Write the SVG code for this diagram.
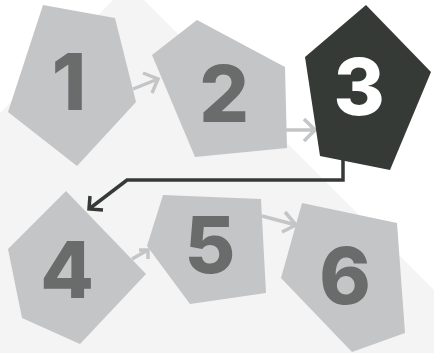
<svg xmlns="http://www.w3.org/2000/svg" width="434" height="353" viewBox="0 0 434 353">
<defs>
<style>
.node{fill:#c4c5c7}
.dark{fill:#363a37}
.num{font-family:Inter,Roboto,"Open Sans",sans-serif;font-weight:800;font-size:78px;text-anchor:middle;fill:#6a6c6b}
.num3{fill:#ffffff}
.lc{fill:none;stroke:#c4c5c7;stroke-width:3.5;stroke-linecap:butt;stroke-linejoin:miter}
.dc{fill:none;stroke:#363a37;stroke-width:3.5;stroke-linejoin:miter}
</style>
</defs>
<rect width="434" height="353" fill="#ffffff"/>
<polygon points="0,113 113,0 144,0 434,290 434,353 0,353" fill="#f4f4f4"/>
<g id="connectors">
<path class="lc" d="M133,89 L158,79 M143,73 L158,79 L152,93"/>
<path class="lc" d="M280,130 L315,130 M304,119 L315,130 L304,141"/>
<path class="dc" d="M343,160 V180 H127 L89,209 M90,196 L89,209 L103,210"/>
<path class="lc" d="M132,259 L148,250 M139,250 L148,250 L148,259"/>
<path class="lc" d="M262,216 L296,225 M285,212 L296,225 L282,232"/>
</g>
<g id="node1">
<polygon class="node" points="43,5 115,18 136,102 77,166 8,112"/>
<text class="num" x="69" y="110">1</text>
</g>
<g id="node2">
<polygon class="node" points="152,55 197,20 285,67 287,148 195,157"/>
<text class="num" x="224" y="122">2</text>
</g>
<g id="node3">
<polygon class="dark" points="366,5 431,72 390,170 320,156 305,57"/>
<text class="num num3" x="359" y="115">3</text>
</g>
<g id="node4">
<polygon class="node" points="66,191 146,274 80,344 22,318 8,249"/>
<text class="num" x="67" y="298">4</text>
</g>
<g id="node5">
<polygon class="node" points="163,195 261,199 266,293 190,304 147,246"/>
<text class="num" x="210" y="273">5</text>
</g>
<g id="node6">
<polygon class="node" points="302,203 397,223 405,333 352,352 281,278"/>
<text class="num" x="345" y="304">6</text>
</g>
</svg>
